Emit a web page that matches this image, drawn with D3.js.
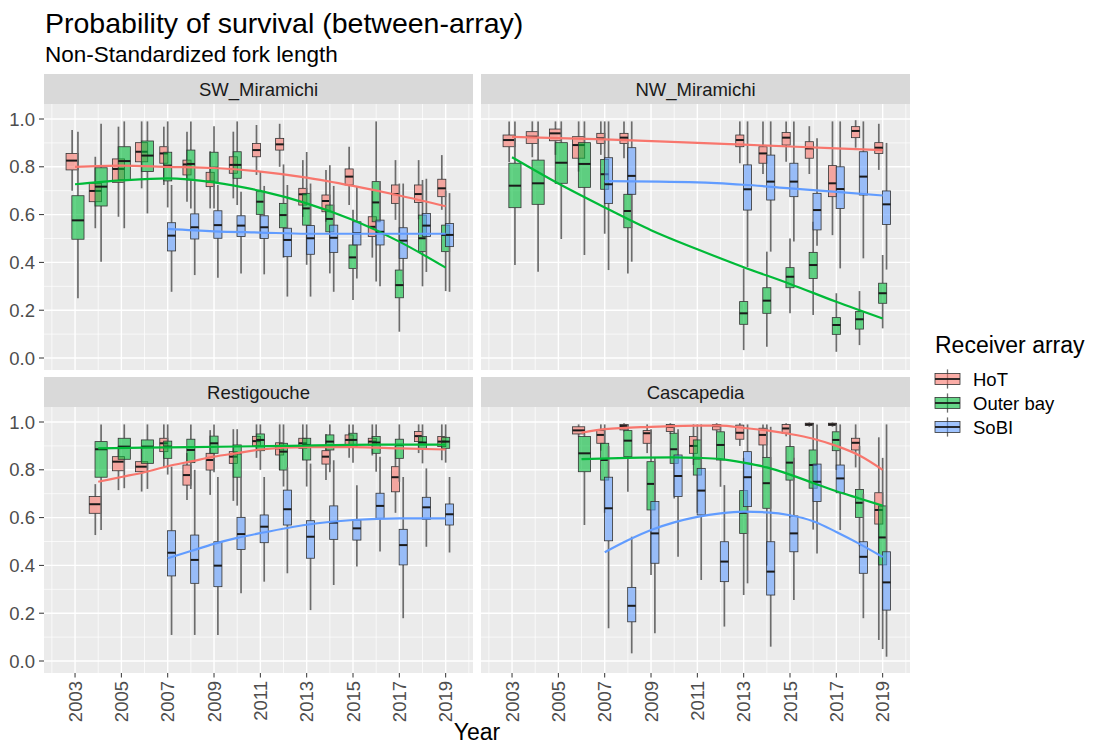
<!DOCTYPE html>
<html><head><meta charset="utf-8">
<script src="https://cdn.jsdelivr.net/npm/d3@7"></script>
<style>body{margin:0;background:#fff} text{font-family:"Liberation Sans",Arial,sans-serif}</style>
</head><body><svg id="c" width="1096" height="744"></svg>
<script>
// ---------- data ----------
const rivers = ["SW_Miramichi", "NW_Miramichi", "Restigouche", "Cascapedia"];
const arrays = ["HoT", "Outer bay", "SoBI"];
const colors = ["#F8766D", "#00BA38", "#619CFF"];
const xTicks = [2003, 2005, 2007, 2009, 2011, 2013, 2015, 2017, 2019];
const xMinor = [2002, 2004, 2006, 2008, 2010, 2012, 2014, 2016, 2018, 2020];
const yTicks = [0, 0.2, 0.4, 0.6, 0.8, 1.0];
const yMinor = [0.1, 0.3, 0.5, 0.7, 0.9];

// rows: [year, whiskerLow, q1, median, q3, whiskerHigh]
const swHoT = [
 [2003,0.70,0.787,0.826,0.856,0.954],[2004,0.543,0.654,0.699,0.731,0.842],[2005,0.591,0.735,0.791,0.833,0.968],
 [2006,0.71,0.821,0.863,0.901,0.99],[2007,0.724,0.815,0.856,0.884,0.968],[2008,0.654,0.766,0.81,0.828,0.947],
 [2009,0.626,0.717,0.738,0.777,0.865],[2010,0.668,0.773,0.808,0.842,0.947],[2011,0.766,0.842,0.87,0.898,0.975],
 [2012,0.80,0.87,0.894,0.919,0.98],[2013,0.59,0.64,0.685,0.71,0.828],[2014,0.57,0.612,0.657,0.682,0.787],
 [2015,0.64,0.724,0.759,0.791,0.884],[2016,0.42,0.508,0.549,0.591,0.70],[2017,0.578,0.647,0.686,0.724,0.828],
 [2018,0.58,0.651,0.686,0.724,0.828],[2019,0.62,0.675,0.71,0.748,0.849]];
const swOuter = [
 [2003,0.25,0.497,0.576,0.679,0.947],[2004,0.403,0.636,0.717,0.796,0.98],[2005,0.543,0.745,0.824,0.884,0.99],
 [2006,0.605,0.78,0.847,0.908,0.99],[2007,0.63,0.741,0.805,0.861,0.99],[2008,0.626,0.745,0.812,0.87,0.99],
 [2009,0.626,0.735,0.796,0.861,0.97],[2010,0.64,0.752,0.808,0.863,0.99],[2011,0.50,0.601,0.654,0.696,0.78],
 [2012,0.42,0.545,0.598,0.647,0.81],[2013,0.39,0.556,0.626,0.689,0.862],[2014,0.354,0.528,0.582,0.64,0.807],
 [2015,0.243,0.375,0.421,0.473,0.62],[2016,0.32,0.57,0.651,0.738,0.99],[2017,0.11,0.252,0.305,0.368,0.73],
 [2018,0.30,0.445,0.501,0.598,0.745],[2019,0.28,0.445,0.515,0.556,0.70]];
const swSoBI = [
 [2007,0.277,0.448,0.512,0.566,0.724],[2008,0.347,0.498,0.547,0.603,0.74],[2009,0.336,0.501,0.556,0.616,0.724],
 [2010,0.354,0.508,0.554,0.595,0.696],[2011,0.35,0.50,0.547,0.595,0.72],[2012,0.257,0.424,0.494,0.543,0.724],
 [2013,0.257,0.434,0.501,0.554,0.73],[2014,0.277,0.442,0.503,0.556,0.72],[2015,0.333,0.473,0.522,0.57,0.72],
 [2016,0.30,0.473,0.528,0.577,0.74],[2017,0.32,0.417,0.491,0.545,0.73],[2018,0.36,0.508,0.554,0.605,0.75],
 [2019,0.277,0.466,0.515,0.563,0.69]];

const nwHoT = [
 [2003,0.82,0.884,0.912,0.933,0.99],[2004,0.84,0.898,0.926,0.947,0.99],[2005,0.85,0.909,0.94,0.958,0.99],
 [2006,0.78,0.836,0.891,0.926,0.99],[2007,0.85,0.898,0.919,0.94,0.99],[2008,0.836,0.898,0.922,0.94,0.99],
 [2013,0.815,0.884,0.912,0.933,0.99],[2014,0.77,0.815,0.856,0.884,0.99],[2015,0.821,0.891,0.922,0.944,0.99],
 [2016,0.77,0.836,0.877,0.905,0.97],[2017,0.514,0.675,0.731,0.805,0.99],[2018,0.88,0.922,0.95,0.968,0.995],
 [2019,0.787,0.856,0.88,0.901,0.98]];
const nwOuter = [
 [2003,0.389,0.629,0.721,0.815,0.99],[2004,0.361,0.643,0.731,0.828,0.99],[2005,0.498,0.731,0.817,0.901,0.99],
 [2006,0.431,0.714,0.812,0.901,0.99],[2007,0.52,0.706,0.769,0.831,0.99],[2008,0.354,0.545,0.615,0.685,0.90],
 [2013,0.033,0.141,0.187,0.236,0.375],[2014,0.047,0.187,0.24,0.294,0.445],[2015,0.187,0.294,0.34,0.378,0.50],
 [2016,0.18,0.333,0.389,0.442,0.57],[2017,0.026,0.099,0.138,0.169,0.271],[2018,0.054,0.121,0.162,0.194,0.28],
 [2019,0.124,0.229,0.271,0.313,0.431]];
const nwSoBI = [
 [2007,0.368,0.647,0.727,0.838,0.99],[2008,0.403,0.685,0.762,0.88,0.99],[2013,0.38,0.619,0.706,0.808,0.99],
 [2014,0.445,0.661,0.738,0.849,0.99],[2015,0.487,0.675,0.738,0.815,0.99],[2016,0.47,0.536,0.619,0.689,0.92],
 [2017,0.375,0.626,0.707,0.80,0.99],[2018,0.417,0.682,0.759,0.863,0.99],[2019,0.37,0.559,0.643,0.699,0.90]];

const reHoT = [
 [2004,0.527,0.618,0.656,0.688,0.74],[2005,0.715,0.796,0.834,0.855,0.90],[2006,0.709,0.792,0.813,0.834,0.897],
 [2007,0.81,0.876,0.911,0.932,0.99],[2008,0.674,0.736,0.778,0.82,0.87],[2009,0.695,0.799,0.841,0.869,0.966],
 [2010,0.67,0.827,0.855,0.876,0.97],[2011,0.85,0.90,0.92,0.94,0.99],[2012,0.80,0.862,0.89,0.913,0.99],
 [2013,0.84,0.89,0.911,0.932,0.99],[2014,0.757,0.824,0.855,0.88,0.95],[2015,0.85,0.904,0.925,0.946,0.99],
 [2016,0.86,0.904,0.918,0.932,0.99],[2017,0.62,0.708,0.769,0.813,0.90],[2018,0.87,0.918,0.941,0.96,0.99],
 [2019,0.84,0.897,0.918,0.939,0.99]];
const reOuter = [
 [2004,0.548,0.769,0.886,0.918,0.99],[2005,0.723,0.844,0.897,0.932,0.99],[2006,0.72,0.827,0.897,0.925,0.99],
 [2007,0.78,0.848,0.897,0.92,0.99],[2008,0.72,0.83,0.883,0.928,0.99],[2009,0.79,0.869,0.911,0.941,0.99],
 [2010,0.65,0.769,0.869,0.904,0.97],[2011,0.80,0.88,0.925,0.95,0.99],[2012,0.73,0.799,0.876,0.911,0.99],
 [2013,0.73,0.841,0.904,0.932,0.99],[2014,0.79,0.883,0.918,0.946,0.99],[2015,0.83,0.897,0.925,0.953,0.99],
 [2016,0.792,0.869,0.914,0.939,0.99],[2017,0.75,0.848,0.904,0.928,0.99],[2018,0.827,0.89,0.914,0.939,0.99],
 [2019,0.83,0.89,0.918,0.936,0.99]];
const reSoBI = [
 [2007,0.109,0.356,0.453,0.545,0.813],[2008,0.109,0.325,0.423,0.527,0.80],[2009,0.109,0.311,0.399,0.499,0.77],
 [2010,0.283,0.467,0.531,0.601,0.77],[2011,0.332,0.495,0.562,0.611,0.77],[2012,0.367,0.569,0.635,0.715,0.81],
 [2013,0.213,0.43,0.52,0.587,0.826],[2014,0.318,0.509,0.579,0.649,0.84],[2015,0.395,0.506,0.555,0.59,0.735],
 [2016,0.458,0.597,0.649,0.702,0.855],[2017,0.179,0.402,0.485,0.551,0.77],[2018,0.478,0.593,0.643,0.685,0.806],
 [2019,0.454,0.569,0.614,0.657,0.77]];

const caHoT = [
 [2006,0.94,0.95,0.965,0.98,0.99],[2007,0.88,0.911,0.946,0.964,0.99],[2008,0.96,0.967,0.983,0.99,0.995],
 [2009,0.87,0.911,0.953,0.964,0.99],[2010,0.95,0.96,0.98,0.99,0.995],[2011,0.82,0.869,0.90,0.939,0.99],
 [2012,0.96,0.967,0.983,0.99,0.995],[2013,0.90,0.928,0.955,0.987,0.995],[2014,0.85,0.904,0.946,0.974,0.99],
 [2015,0.94,0.953,0.973,0.99,0.995],[2016,0.98,0.985,0.99,0.995,0.998],[2017,0.98,0.985,0.99,0.995,0.998],
 [2018,0.81,0.883,0.913,0.932,0.99],[2019,0.088,0.573,0.632,0.704,0.936]];
const caOuter = [
 [2006,0.569,0.792,0.869,0.939,0.95],[2007,0.62,0.757,0.841,0.911,0.99],[2008,0.708,0.855,0.922,0.964,0.99],
 [2009,0.36,0.632,0.741,0.834,0.97],[2010,0.68,0.827,0.886,0.953,0.99],[2011,0.62,0.778,0.848,0.925,0.99],
 [2012,0.729,0.841,0.904,0.959,0.99],[2013,0.276,0.534,0.62,0.713,0.85],[2014,0.40,0.639,0.744,0.852,0.99],
 [2015,0.60,0.757,0.83,0.897,0.99],[2016,0.55,0.723,0.82,0.883,0.99],[2017,0.80,0.88,0.925,0.959,0.99],
 [2018,0.48,0.601,0.662,0.718,0.90],[2019,0.05,0.402,0.517,0.649,0.85]];
const caSoBI = [
 [2007,0.137,0.503,0.639,0.769,0.90],[2008,0.032,0.164,0.231,0.308,0.52],[2009,0.116,0.409,0.534,0.667,0.85],
 [2010,0.436,0.688,0.774,0.862,0.97],[2011,0.339,0.611,0.713,0.806,0.99],[2012,0.144,0.332,0.416,0.499,0.736],
 [2013,0.325,0.646,0.769,0.876,0.99],[2014,0.06,0.276,0.374,0.499,0.98],[2015,0.255,0.457,0.534,0.607,0.85],
 [2016,0.45,0.667,0.75,0.824,0.99],[2017,0.548,0.704,0.764,0.82,0.99],[2018,0.179,0.367,0.436,0.499,0.70],
 [2019,0.018,0.213,0.329,0.457,0.99]];

// smoothed trend lines: [year, value]
const swHoTFit = [[2003,0.80],[2005,0.805],[2007,0.80],[2009,0.795],[2011,0.78],[2013,0.755],[2015,0.72],[2017,0.68],[2019,0.635]];
const swOuterFit = [[2003,0.727],[2005,0.743],[2007,0.752],[2009,0.735],[2011,0.699],[2013,0.647],[2015,0.577],[2017,0.487],[2019,0.378]];
const swSoBIFit = [[2007,0.54],[2009,0.53],[2011,0.525],[2013,0.52],[2015,0.52],[2017,0.52],[2019,0.52]];
const nwHoTFit = [[2003,0.925],[2007,0.915],[2011,0.90],[2015,0.885],[2019,0.87]];
const nwOuterFit = [[2003,0.84],[2005,0.73],[2007,0.63],[2009,0.535],[2011,0.455],[2013,0.38],[2015,0.31],[2017,0.235],[2019,0.165]];
const nwSoBIFit = [[2007,0.74],[2011,0.735],[2013,0.725],[2015,0.71],[2017,0.695],[2019,0.68]];
const reHoTFit = [[2004,0.75],[2005,0.77],[2006,0.79],[2007,0.815],[2008,0.835],[2009,0.855],[2010,0.87],[2011,0.885],[2013,0.895],[2015,0.895],[2017,0.89],[2019,0.885]];
const reOuterFit = [[2004,0.89],[2008,0.895],[2012,0.90],[2016,0.905],[2019,0.905]];
const reSoBIFit = [[2007,0.43],[2008,0.46],[2009,0.49],[2010,0.515],[2011,0.535],[2013,0.57],[2015,0.59],[2017,0.597],[2019,0.597]];
const caHoTFit = [[2006,0.955],[2007,0.97],[2009,0.98],[2011,0.985],[2012,0.985],[2013,0.975],[2014,0.965],[2015,0.95],[2016,0.93],[2017,0.90],[2018,0.86],[2019,0.80]];
const caOuterFit = [[2006,0.845],[2008,0.85],[2010,0.852],[2011,0.85],[2012,0.845],[2013,0.83],[2014,0.81],[2015,0.78],[2016,0.745],[2017,0.71],[2018,0.68],[2019,0.65]];
const caSoBIFit = [[2007,0.455],[2008,0.505],[2009,0.548],[2010,0.58],[2011,0.603],[2012,0.618],[2013,0.625],[2014,0.622],[2015,0.61],[2016,0.585],[2017,0.54],[2018,0.49],[2019,0.435]];

// ---------- assembly ----------
const panelBoxes = [[swHoT, swOuter, swSoBI],[nwHoT, nwOuter, nwSoBI],[reHoT, reOuter, reSoBI],[caHoT, caOuter, caSoBI]];
const panelFits = [[swHoTFit, swOuterFit, swSoBIFit],[nwHoTFit, nwOuterFit, nwSoBIFit],[reHoTFit, reOuterFit, reSoBIFit],[caHoTFit, caOuterFit, caSoBIFit]];

const svg = d3.select("#c");
const colX = [[44, 473], [481, 910]];
const rowY = [[104, 370], [407, 673]];
const stripH = 30;
const xDomain = [2001.66, 2020.18];
const yDomain = [-0.0502, 1.0628];
const BOXW = 1.05, DODGE = 0.5;
const SMALL = 18.5;

svg.append("text").attr("x", 45).attr("y", 33).attr("font-size", 28.5).attr("fill", "#000").text("Probability of survival (between-array)");
svg.append("text").attr("x", 45).attr("y", 62).attr("font-size", 22.5).attr("fill", "#000").text("Non-Standardized fork length");

rivers.forEach((river, p) => {
  const c = p % 2, r = Math.floor(p / 2);
  const [px0, px1] = colX[c], [py0, py1] = rowY[r];
  const x = d3.scaleLinear().domain(xDomain).range([px0, px1]);
  const y = d3.scaleLinear().domain(yDomain).range([py1, py0]);
  const g = svg.append("g");
  // strip
  g.append("rect").attr("x", px0).attr("y", py0 - stripH).attr("width", px1 - px0).attr("height", stripH).attr("fill", "#D9D9D9");
  g.append("text").attr("x", (px0 + px1) / 2).attr("y", py0 - stripH / 2 + 6.5).attr("text-anchor", "middle")
    .attr("font-size", SMALL).attr("fill", "#1A1A1A").text(river);
  // panel
  g.append("rect").attr("x", px0).attr("y", py0).attr("width", px1 - px0).attr("height", py1 - py0).attr("fill", "#EBEBEB");
  const grid = g.append("g").attr("stroke", "#fff");
  grid.selectAll(".xm").data(xMinor).join("line").attr("x1", d => x(d)).attr("x2", d => x(d)).attr("y1", py0).attr("y2", py1).attr("stroke-width", 0.7);
  grid.selectAll(".ym").data(yMinor).join("line").attr("y1", d => y(d)).attr("y2", d => y(d)).attr("x1", px0).attr("x2", px1).attr("stroke-width", 0.7);
  grid.selectAll(".xM").data(xTicks).join("line").attr("x1", d => x(d)).attr("x2", d => x(d)).attr("y1", py0).attr("y2", py1).attr("stroke-width", 1.4);
  grid.selectAll(".yM").data(yTicks).join("line").attr("y1", d => y(d)).attr("y2", d => y(d)).attr("x1", px0).attr("x2", px1).attr("stroke-width", 1.4);

  // dodge: groups present per year
  const sets = panelBoxes[p];
  const present = {};
  sets.forEach((rows, gi) => rows.forEach(rw => { (present[rw[0]] = present[rw[0]] || []).push(gi); }));
  const items = [];
  Object.keys(present).map(Number).sort((a, b) => a - b).forEach(yr => {
    const gs = present[yr].sort(), n = gs.length;
    gs.forEach((gi, i) => {
      const rw = sets[gi].find(d => d[0] === yr);
      items.push({gi, cx: yr + DODGE * ((i + 0.5) / n - 0.5), w: BOXW / n, lo: rw[1], q1: rw[2], med: rw[3], q3: rw[4], hi: rw[5]});
    });
  });
  const bx = g.append("g");
  items.forEach(d => {
    const bg = bx.append("g");
    bg.append("line").attr("x1", x(d.cx)).attr("x2", x(d.cx)).attr("y1", y(d.hi)).attr("y2", y(d.q3)).attr("stroke", "#6c6c6c").attr("stroke-width", 1.7);
    bg.append("line").attr("x1", x(d.cx)).attr("x2", x(d.cx)).attr("y1", y(d.q1)).attr("y2", y(d.lo)).attr("stroke", "#6c6c6c").attr("stroke-width", 1.7);
    bg.append("rect").attr("x", x(d.cx - d.w / 2)).attr("width", x(d.cx + d.w / 2) - x(d.cx - d.w / 2))
      .attr("y", y(d.q3)).attr("height", y(d.q1) - y(d.q3))
      .attr("fill", colors[d.gi]).attr("fill-opacity", 0.6).attr("stroke", "#333").attr("stroke-width", 0.8);
    bg.append("line").attr("x1", x(d.cx - d.w / 2)).attr("x2", x(d.cx + d.w / 2)).attr("y1", y(d.med)).attr("y2", y(d.med))
      .attr("stroke", "#1a1a1a").attr("stroke-width", 2);
  });
  // trend lines
  const line = d3.line().x(d => x(d[0])).y(d => y(d[1])).curve(d3.curveMonotoneX);
  panelFits[p].forEach((pts, gi) => {
    g.append("path").datum(pts).attr("d", line).attr("fill", "none").attr("stroke", colors[gi]).attr("stroke-width", 2.2);
  });

  // axes
  if (c === 0) {
    const ay = g.append("g");
    yTicks.forEach(t => {
      ay.append("line").attr("x1", px0 - 5).attr("x2", px0).attr("y1", y(t)).attr("y2", y(t)).attr("stroke", "#333").attr("stroke-width", 1);
      ay.append("text").attr("x", px0 - 9).attr("y", y(t) + 6.5).attr("text-anchor", "end").attr("font-size", SMALL).attr("fill", "#4D4D4D").text(t.toFixed(1));
    });
  }
  if (r === 1) {
    const ax = g.append("g");
    xTicks.forEach(t => {
      ax.append("line").attr("x1", x(t)).attr("x2", x(t)).attr("y1", py1).attr("y2", py1 + 4.5).attr("stroke", "#333").attr("stroke-width", 1);
      ax.append("text").attr("transform", `translate(${x(t) + 6.5},${py1 + 8}) rotate(-90)`).attr("text-anchor", "end")
        .attr("font-size", SMALL).attr("fill", "#4D4D4D").text(t);
    });
  }
});

svg.append("text").attr("x", (colX[0][0] + colX[1][1]) / 2).attr("y", 740).attr("text-anchor", "middle").attr("font-size", 23).attr("fill", "#000").text("Year");

// legend
const lg = svg.append("g");
lg.append("text").attr("x", 935).attr("y", 353).attr("font-size", 23).attr("fill", "#000").text("Receiver array");
arrays.forEach((a, i) => {
  const ky = 367 + i * 24, kx = 932, kw = 31, kh = 24;
  const k = lg.append("g");
  k.append("line").attr("x1", kx + kw / 2).attr("x2", kx + kw / 2).attr("y1", ky + kh * 0.1).attr("y2", ky + kh * 0.9).attr("stroke", "#6c6c6c").attr("stroke-width", 1.3);
  k.append("rect").attr("x", kx + 3).attr("y", ky + kh * 0.27).attr("width", kw - 6).attr("height", kh * 0.46)
    .attr("fill", colors[i]).attr("fill-opacity", 0.6).attr("stroke", "#333").attr("stroke-width", 0.8);
  k.append("line").attr("x1", kx + 3).attr("x2", kx + kw - 3).attr("y1", ky + kh / 2).attr("y2", ky + kh / 2).attr("stroke", "#1a1a1a").attr("stroke-width", 1.8);
  k.append("text").attr("x", 973).attr("y", ky + kh / 2 + 6.5).attr("font-size", SMALL).attr("fill", "#000").text(a);
});
</script></body></html>
